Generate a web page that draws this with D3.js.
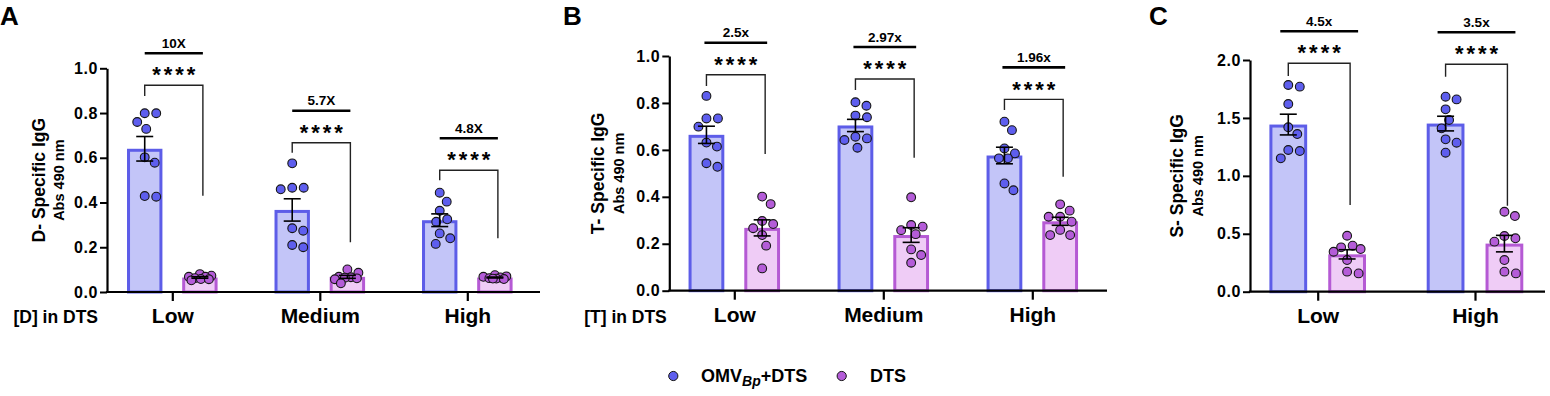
<!DOCTYPE html>
<html>
<head>
<meta charset="utf-8">
<script src="https://cdn.jsdelivr.net/npm/d3@7"></script>
<style>
  html, body { margin: 0; padding: 0; background: #fff; }
  svg { display: block; font-family: "Liberation Sans", Arial, Helvetica, sans-serif; }
</style>
</head>
<body>
<svg id="chart" width="1550" height="396"></svg>
<script>
// ---------------- DATA ----------------
const categoriesA = ["Low", "Medium", "High"];
const categoriesB = ["Low", "Medium", "High"];
const categoriesC = ["Low", "High"];

const seriesNames = ["OMV+DTS", "DTS"];

// Panel A: D-specific IgG (Abs 490 nm)
const omvA = [
  [0.799, 0.799, 0.760, 0.729, 0.602, 0.578, 0.429, 0.426],
  [0.575, 0.459, 0.466, 0.466, 0.285, 0.274, 0.210, 0.200],
  [0.444, 0.404, 0.363, 0.325, 0.314, 0.262, 0.240, 0.215]
];
const dtsA = [
  [0.068, 0.058, 0.057, 0.080, 0.073, 0.068, 0.052, 0.062],
  [0.064, 0.057, 0.101, 0.086, 0.039, 0.068, 0.061, 0.066],
  [0.070, 0.065, 0.060, 0.068, 0.075, 0.062, 0.058, 0.060]
];
// Panel B: T-specific IgG
const omvB = [
  [0.830, 0.734, 0.734, 0.699, 0.631, 0.614, 0.543, 0.528],
  [0.803, 0.788, 0.739, 0.746, 0.656, 0.649, 0.642, 0.609],
  [0.720, 0.684, 0.606, 0.585, 0.564, 0.564, 0.457, 0.428]
];
const dtsB = [
  [0.401, 0.369, 0.284, 0.297, 0.266, 0.237, 0.192, 0.095],
  [0.398, 0.258, 0.241, 0.273, 0.280, 0.176, 0.152, 0.119],
  [0.368, 0.341, 0.315, 0.315, 0.294, 0.259, 0.237, 0.237]
];
// Panel C: S-specific IgG
const omvC = [
  [1.784, 1.770, 1.620, 1.419, 1.361, 1.223, 1.214, 1.151],
  [1.683, 1.660, 1.574, 1.482, 1.410, 1.315, 1.286, 1.200]
];
const dtsC = [
  [0.483, 0.368, 0.345, 0.397, 0.383, 0.273, 0.173, 0.158],
  [0.690, 0.653, 0.461, 0.481, 0.432, 0.273, 0.173, 0.158]
];

// fold-change labels above significance brackets
const foldA = ["10X", "5.7X", "4.8X"];
const foldB = ["2.5x", "2.97x", "1.96x"];
const foldC = ["4.5x", "3.5x"];
const sigLabel = "****";

// bracket heights (data units): top, left leg end, right leg end
const bracketTopA = [0.924, 0.667, 0.544];
const bracketLeftA = [0.876, 0.623, 0.500];
const bracketRightA = [0.430, 0.222, 0.240];
const bracketTopB = [0.920, 0.902, 0.815];
const bracketLeftB = [0.872, 0.855, 0.770];
const bracketRightB = [0.582, 0.567, 0.486];
const bracketTopC = [1.972, 1.963];
const bracketLeftC = [1.862, 1.856];
const bracketRightC = [0.748, 0.742];

// axis ticks
const yTicksA = [0, 0.2, 0.4, 0.6, 0.8, 1.0];
const yTicksB = [0, 0.2, 0.4, 0.6, 0.8, 1.0];
const yTicksC = [0, 0.5, 1.0, 1.5, 2.0];

const yTitleA = "D- Specific IgG";
const yTitleB = "T- Specific IgG";
const yTitleC = "S- Specific IgG";
const ySubTitle = "Abs 490 nm";
const xTitleA = "[D] in DTS";
const xTitleB = "[T] in DTS";

// ---------------- STYLE ----------------
const COL = {
  omvFill: "#c3c5f8", omvStroke: "#5d5de8", omvDot: "#5e5eee",
  dtsFill: "#efccf6", dtsStroke: "#b55ad4", dtsDot: "#b45cd8"
};
const FONT = '"Liberation Sans", Arial, Helvetica, sans-serif';

const svg = d3.select("#chart");

// deterministic column-scatter layout (GraphPad-like), bounded in width
function swarm(values, y, cx, r, maxW) {
  const pts = values.map(v => ({ v, y: y(v) })).sort((a, b) => b.v - a.v);
  const placed = [];
  const D = 2 * r + 2.4;
  const cands = [0];
  for (let k = 1; k * 0.5 <= maxW; k++) { cands.push(k * 0.5, -k * 0.5); }
  for (const p of pts) {
    let best = null, bestScore = -1, bestDx = 0;
    for (const dx of cands) {
      const md = placed.length ? d3.min(placed, q => Math.hypot(q.dx - dx, q.y - p.y)) : Infinity;
      if (md >= D) { best = dx; break; }
      if (md > bestScore + 0.01) { bestScore = md; bestDx = dx; }
    }
    p.dx = best !== null ? best : bestDx;
    p.x = cx + p.dx;
    placed.push(p);
  }
  return placed;
}

function drawPanel(cfg) {
  const g = svg.append("g");
  const y = d3.scaleLinear().domain([0, cfg.yMax]).range([cfg.yZero, cfg.yTop]);
  const x = d3.scalePoint().domain(cfg.categories).range([cfg.firstTick, cfg.lastTick]);
  const step = cfg.categories.length > 1 ? (cfg.lastTick - cfg.firstTick) / (cfg.categories.length - 1) : 150;
  const barW = 0.24 * step;
  const off = 0.187 * step;
  const sub = d3.scaleOrdinal().domain(seriesNames).range([-off, off]);

  // panel letter
  g.append("text").attr("x", cfg.letterX).attr("y", 25)
    .attr("font-size", 26).attr("font-weight", "bold").attr("fill", "#000").text(cfg.letter);

  const groups = [];
  cfg.categories.forEach((c, i) => {
    [[seriesNames[0], cfg.omv[i], COL.omvFill, COL.omvStroke, COL.omvDot],
     [seriesNames[1], cfg.dts[i], COL.dtsFill, COL.dtsStroke, COL.dtsDot]].forEach(([s, vals, fill, stroke, dot]) => {
      const mean = d3.mean(vals);
      const sem = d3.deviation(vals) / Math.sqrt(vals.length);
      groups.push({ c, s, vals, fill, stroke, dot, mean, sem, cx: x(c) + sub(s) });
    });
  });

  g.selectAll("rect.bar").data(groups).join("rect").attr("class", "bar")
    .attr("x", d => d.cx - barW / 2 + 1.5)
    .attr("width", barW - 3)
    .attr("y", d => y(d.mean) + 1.5)
    .attr("height", d => Math.max(0, cfg.yZero - y(d.mean) - 1.5))
    .attr("fill", d => d.fill).attr("stroke", d => d.stroke).attr("stroke-width", 3);

  const r = 4.4;
  groups.forEach(d => {
    const pts = swarm(d.vals, y, d.cx, r, 0.36 * barW);
    g.append("g").selectAll("circle").data(pts).join("circle")
      .attr("cx", p => p.x).attr("cy", p => p.y).attr("r", r)
      .attr("fill", d.dot).attr("stroke", "#151515").attr("stroke-width", 1.1);
  });

  const cap = 8.5;
  const eb = g.append("g").attr("stroke", "#000").attr("stroke-width", 1.6).attr("fill", "none");
  groups.forEach(d => {
    const y1 = y(d.mean + d.sem), y0 = y(d.mean - d.sem);
    eb.append("line").attr("x1", d.cx).attr("x2", d.cx).attr("y1", y1).attr("y2", y0);
    eb.append("line").attr("x1", d.cx - cap).attr("x2", d.cx + cap).attr("y1", y1).attr("y2", y1);
    eb.append("line").attr("x1", d.cx - cap).attr("x2", d.cx + cap).attr("y1", y0).attr("y2", y0);
  });

  // axes
  const yAxis = d3.axisLeft(y).tickValues(cfg.yTicks).tickFormat(d3.format(".1f"))
    .tickSize(7).tickSizeOuter(0).tickPadding(2);
  const ya = g.append("g").attr("transform", `translate(${cfg.axisLeft},0)`).call(yAxis);
  ya.select(".domain").attr("stroke-width", 2.2).attr("stroke", "#000");
  ya.selectAll(".tick line").attr("stroke-width", 2).attr("stroke", "#000");
  ya.selectAll(".tick text").attr("font-size", 16).attr("font-weight", "bold")
    .attr("font-family", FONT).attr("fill", "#000").attr("letter-spacing", 0.6);

  const xAxis = d3.axisBottom(x).tickSize(9).tickSizeOuter(0).tickPadding(7);
  const xa = g.append("g").attr("transform", `translate(0,${cfg.yZero})`).call(xAxis);
  xa.select(".domain").remove();
  xa.selectAll(".tick line").attr("stroke-width", 2.2).attr("stroke", "#000");
  xa.selectAll(".tick text").attr("font-size", 21).attr("font-weight", "bold")
    .attr("font-family", FONT).attr("fill", "#000");
  g.append("line").attr("x1", cfg.axisLeft - 1.1).attr("x2", cfg.axisRight)
    .attr("y1", cfg.yZero).attr("y2", cfg.yZero).attr("stroke", "#000").attr("stroke-width", 2.2);

  // axis titles
  const yMid = (cfg.yZero + cfg.yTop) / 2;
  g.append("text").attr("transform", `translate(${cfg.axisLeft - cfg.titleOff},${yMid}) rotate(-90)`)
    .attr("text-anchor", "middle").attr("font-size", 17.5).attr("font-weight", "bold").text(cfg.yTitle);
  g.append("text").attr("transform", `translate(${cfg.axisLeft - cfg.subOff},${yMid}) rotate(-90)`)
    .attr("text-anchor", "middle").attr("font-size", 14.5).attr("font-weight", "bold").text(ySubTitle);
  if (cfg.xTitle) {
    g.append("text").attr("x", cfg.axisLeft - cfg.xTitleGap).attr("y", 323)
      .attr("text-anchor", "end").attr("font-size", 17.5).attr("font-weight", "bold").text(cfg.xTitle);
  }

  // significance brackets
  cfg.categories.forEach((c, i) => {
    const lx = x(c) + sub(seriesNames[0]);
    const rx = x(c) + sub(seriesNames[1]) + 3;
    const yt = y(cfg.bTop[i]);
    g.append("path")
      .attr("d", `M${lx},${y(cfg.bLeft[i])}V${yt}H${rx}V${y(cfg.bRight[i])}`)
      .attr("fill", "none").attr("stroke", "#222").attr("stroke-width", 1.4);
    const mx = (lx + rx) / 2;
    g.append("text").attr("x", mx + 1.5).attr("y", yt - 15.5 + 12.6)
      .attr("text-anchor", "middle").attr("font-size", 22).attr("font-weight", "bold")
      .attr("letter-spacing", 3).text(sigLabel);
    g.append("line").attr("x1", lx - cfg.lineExt).attr("x2", rx + cfg.lineExt)
      .attr("y1", yt - 32).attr("y2", yt - 32).attr("stroke", "#000").attr("stroke-width", 2.6);
    g.append("text").attr("x", mx).attr("y", yt - 42 + 4.7)
      .attr("text-anchor", "middle").attr("font-size", 13.5).attr("font-weight", "bold").text(cfg.fold[i]);
  });
}

drawPanel({
  letter: "A", letterX: 0, categories: categoriesA, omv: omvA, dts: dtsA, yMax: 1.0, yTicks: yTicksA,
  axisLeft: 107, axisRight: 540, yTop: 68.3, yZero: 292, firstTick: 172.3, lastTick: 467.3,
  yTitle: yTitleA, xTitle: xTitleA, xTitleGap: 9, titleOff: 62, subOff: 43,
  bTop: bracketTopA, bLeft: bracketLeftA, bRight: bracketRightA, fold: foldA, lineExt: 0
});
drawPanel({
  letter: "B", letterX: 563, categories: categoriesB, omv: omvB, dts: dtsB, yMax: 1.0, yTicks: yTicksB,
  axisLeft: 669.3, axisRight: 1107, yTop: 56, yZero: 290.7, firstTick: 734.3, lastTick: 1032.3,
  yTitle: yTitleB, xTitle: xTitleB, xTitleGap: 2.5, titleOff: 65, subOff: 45,
  bTop: bracketTopB, bLeft: bracketLeftB, bRight: bracketRightB, fold: foldB, lineExt: 2
});
drawPanel({
  letter: "C", letterX: 1149, categories: categoriesC, omv: omvC, dts: dtsC, yMax: 2.0, yTicks: yTicksC,
  axisLeft: 1250, axisRight: 1545, yTop: 60, yZero: 291.7, firstTick: 1317.7, lastTick: 1475,
  yTitle: yTitleC, xTitle: null, titleOff: 67, subOff: 47,
  bTop: bracketTopC, bLeft: bracketLeftC, bRight: bracketRightC, fold: foldC, lineExt: 8
});

// legend
const lg = svg.append("g");
lg.append("circle").attr("cx", 673.3).attr("cy", 376).attr("r", 4.6)
  .attr("fill", COL.omvDot).attr("stroke", "#151515").attr("stroke-width", 1);
const t1 = lg.append("text").attr("x", 701).attr("y", 382).attr("font-size", 18).attr("font-weight", "bold");
t1.append("tspan").text("OMV");
t1.append("tspan").attr("font-style", "italic").attr("font-size", 14).attr("dy", 4).text("Bp");
t1.append("tspan").attr("dy", -4).text("+DTS");
lg.append("circle").attr("cx", 841.7).attr("cy", 376).attr("r", 4.6)
  .attr("fill", COL.dtsDot).attr("stroke", "#151515").attr("stroke-width", 1);
lg.append("text").attr("x", 870).attr("y", 382).attr("font-size", 18).attr("font-weight", "bold").text("DTS");
</script>
</body>
</html>
